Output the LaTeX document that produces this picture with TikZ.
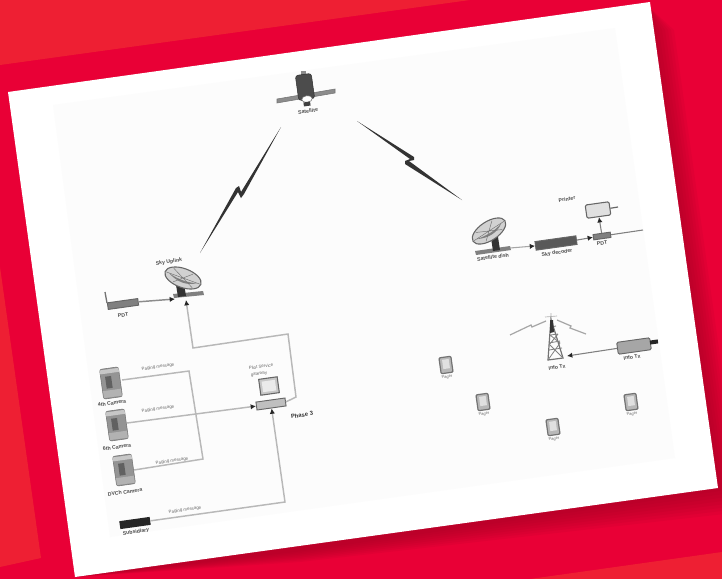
\documentclass[tikz,border=0pt]{standalone}
\usepackage{fontspec}
\setmainfont{Liberation Sans}
\usetikzlibrary{shapes.geometric,arrows.meta}
\definecolor{redbase}{HTML}{E90036}
\definecolor{redlight}{HTML}{EE1F33}
\definecolor{redshadow}{HTML}{A00024}
\definecolor{innerpaper}{HTML}{FCFCFC}
\tikzset{
  tiny label/.style={font=\fontsize{3.3}{4}\selectfont,text=black!60,rotate=8,inner sep=0,align=center},
  dev label/.style={font=\fontsize{3.9}{5}\selectfont\bfseries,text=black!70,rotate=8,inner sep=0,align=center},
  lite wire/.style={draw=black!28,line width=1.1pt,line join=miter},
  dark wire/.style={draw=black!50,line width=.8pt},
  tip/.style={-{Latex[length=4pt,width=4pt,black!85]}},
  pager/.style={draw=black!55,fill=black!28,line width=.9pt,rounded corners=.8pt,rotate=8,minimum width=9pt,minimum height=12pt,inner sep=0},
  unit/.style={draw=black!60,line width=.7pt,rotate=8,inner sep=0},
  bolt/.style={fill=black!80,draw=none},
  pics/cam/.style={code={
    \fill[black!42,draw=black!55,line width=.4pt,rounded corners=1.5pt] (-9.5,-15) rectangle (9.5,15);
    \fill[black!22] (-9.5,-14) rectangle (9.5,-10);
    \fill[black!62] (-5,-7) rectangle (1,5);
    \fill[black!30] (-9,7) rectangle (9,14);
  }},
  pics/dish/.style={code={
    \draw[black!60,fill=black!18,line width=.8pt] (0,0) ellipse (19 and 9.5);
    \fill[black!50] (-15,0) .. controls (-4,3) and (6,3) .. (15,0) .. controls (6,6) and (-4,6) .. (-15,0);
    \draw[black!55,line width=.35pt] (-12,-6) -- (12,6) (-8,7) -- (8,-7) (-18,0) -- (18,0);
  }}
}
\begin{document}
\begin{tikzpicture}[x=.75pt,y=-.75pt]
\useasboundingbox (0,0) rectangle (722,579);
% background
\fill[redbase] (0,0) rectangle (722,579);
\fill[redlight] (0,0) -- (470,0) -- (0,65) -- cycle;
\fill[redlight] (0,267) -- (41,558) -- (0,567) -- cycle;
\fill[redlight] (722,552) -- (530,579) -- (722,579) -- cycle;
\foreach \d in {3,6,...,24}{
  \fill[redshadow,opacity=.1] (650,8) -- (650+\d,30) -- (718+\d,488+\d) -- (300,550+.5*\d) -- (75,577) -- cycle;
}
% paper
\fill[white] (8,92) -- (650,2) -- (718,488) -- (75,577) -- cycle;
\fill[innerpaper] (53,105) -- (615,28) -- (675,458) -- (110,537) -- cycle;

% bends and free ends
\coordinate (upA) at (193,348);
\coordinate (upB) at (288,334);
\coordinate (upC) at (296,397);
\coordinate (c1A) at (189,371);
\coordinate (c1B) at (203,459);
\coordinate (subA) at (285,502);
\coordinate (feed) at (643,230);
\coordinate (upDish) at (186,300);
\coordinate (dishIn) at (175,299);
\coordinate (dishOut) at (510,248);

% satellite
\fill[black!45,draw=black!55,line width=.4pt] (277,99) -- (335,89) -- (335,93) -- (277,103) -- cycle;
\fill[black!45] (301,71) rectangle (306,76);
\node[draw=black!80,fill=black!70,rotate=8,minimum width=12pt,minimum height=19pt,inner sep=0,rounded corners=2pt] (sat) at (305,87) {};
\node[draw=black!60,fill=white,ellipse,rotate=8,minimum width=8pt,minimum height=5pt,inner sep=0] (satlens) at (307,99) {};
\node[fill=black!75,rotate=8,minimum width=5pt,minimum height=3pt,inner sep=0] (satbase) at (307,104) {};
\node[dev label] (satl) at (308,111) {Satellite};

% radio bolts
\fill[bolt] (200,253) -- (236,188) -- (239,186) -- (241,192) -- (281,127) -- (244,194) -- (241,198) -- (238,192) -- cycle;
\fill[bolt] (357,121) -- (414,157) -- (414,160) -- (409,161) -- (462,200) -- (405,164) -- (405,161) -- (410,159) -- cycle;

% sky uplink
\fill[black!50] (173,294) -- (203,291) -- (204,295) -- (174,298) -- cycle;
\fill[black!80] (176,285) -- (184,284) -- (186,296) -- (178,297) -- cycle;
\pic[rotate=-20] at (183,278) {dish};
\node[dev label] (upl) at (169,262) {Sky Uplink};
\node[unit,fill=black!50,minimum width=23pt,minimum height=5pt] (pdtA) at (123,304) {};
\draw[black!55,line width=1pt] (105,292) -- (107,303);
\node[dev label] (pdtAl) at (123,315) {PDT};
\draw[lite wire,draw=black!45,tip] (pdtA.east) -- (dishIn);

% cameras
\pic[rotate=8] at (111,383) {cam};
\pic[rotate=8] at (117,425) {cam};
\pic[rotate=8] at (124,470) {cam};
\coordinate (cam1) at (122,380);
\coordinate (cam2) at (127,423);
\coordinate (cam3) at (134,470);
\node[dev label] (c1l) at (112,403) {4th Camera};
\node[dev label] (c2l) at (117,447) {6th Camera};
\node[dev label] (c3l) at (125,492) {DVCh Camera};

% gateway
\node[draw=black!60,fill=black!22,line width=.8pt,rotate=8,minimum width=14pt,minimum height=12pt,inner sep=0] (mon) at (269,386) {};
\node[draw=none,fill=black!8,rotate=8,minimum width=10pt,minimum height=8pt,inner sep=0] (scr) at (269,386) {};
\node[unit,fill=black!25,minimum width=22pt,minimum height=6pt] (gw) at (271,404) {};
\node[tiny label] (gwlA) at (261,366.5) {Pilot Service};
\node[tiny label] (gwlB) at (259,374) {gateway};
\node[font=\fontsize{4.4}{5}\selectfont\bfseries,rotate=8,inner sep=0,text=black!80] (ph) at (302,415) {Phase 3};

% subscribers
\node[fill=black!85,rotate=8,minimum width=23pt,minimum height=6pt,inner sep=0] (sub) at (135,523) {};
\node[dev label] (subl) at (136,532) {Subsidiary};

% grey wires
\draw[lite wire] (cam1) -- (c1A) -- (c1B) -- (cam3);
\draw[lite wire,tip] (cam2) -- (gw.west);
\draw[lite wire,tip] (gw.east) -- (upC) -- (upB) -- (upA) -- (upDish);
\draw[lite wire,tip] (sub.east) -- (subA) -- (gw.south);
\node[tiny label] (m1) at (158,367) {Paging message};
\node[tiny label] (m2) at (158,409) {Paging message};
\node[tiny label] (m3) at (172,461) {Paging message};
\node[tiny label] (m4) at (185,510) {Paging message};

% satellite dish side
\fill[black!50] (475,251) -- (510,246) -- (511,250) -- (476,255) -- cycle;
\fill[black!80] (491,238) -- (498,237) -- (500,250) -- (493,251) -- cycle;
\pic[rotate=33] at (489,231) {dish};
\node[dev label] (dl) at (493,257) {Satellite dish};
\node[unit,fill=black!65,minimum width=31pt,minimum height=6.5pt] (dec) at (556,243) {};
\node[dev label] (decl) at (557,253) {Sky decoder};
\node[unit,fill=black!50,minimum width=13pt,minimum height=4pt] (pdtB) at (602,236) {};
\node[dev label] (pdtBl) at (602,243) {PDT};
\node[draw=black!60,fill=black!12,line width=.8pt,rotate=8,minimum width=18pt,minimum height=10pt,inner sep=0,rounded corners=1pt] (prn) at (598,210) {};
\draw[black!60,line width=.9pt] (prn.east) -- (618,207);
\node[dev label] (prl) at (567,199) {Printer};
\draw[dark wire,draw=black!35,tip] (dishOut) -- (dec.west);
\draw[dark wire,tip] (dec.east) -- (pdtB.west);
\draw[dark wire] (pdtB.east) -- (feed);
\draw[dark wire,tip] (pdtB.north) -- (prn.south);

% tower
\node[inner sep=0,minimum size=1pt] (top) at (551,318) {};
\coordinate (tL) at (548,360);
\coordinate (tR) at (563,358);
\draw[black!55,line width=.9pt] (top) -- (tL) -- (tR) -- cycle;
\draw[black!50,line width=.6pt] (549,350) -- (562,348) (549,343) -- (560,341) (550,335) -- (558,334) (551,327) -- (556,326) (548,360) -- (560,343) (563,358) -- (550,345) (549,345) -- (558,334) (560,343) -- (550,335);
\fill[black!80] (550,320) -- (553,320) -- (554,332) -- (550,333) -- cycle;
\draw[black!30,line width=.5pt] (551,313) -- (551,320) (545,317) -- (557,316);
\node[dev label] (txl) at (557,367) {Info Tx};
\draw[black!35,line width=.9pt] (546,321) -- (532,327) -- (531,325) -- (510,335);
\draw[black!35,line width=.9pt] (557,320) -- (571,326) -- (570,328) -- (586,334);
\node[unit,fill=black!35,rounded corners=1pt,minimum width=25pt,minimum height=9pt] (itx) at (634,346) {};
\node[fill=black!85,rotate=8,minimum width=6pt,minimum height=3pt,inner sep=0] (plug) at (654,342) {};
\node[dev label] (itxl) at (632,357) {Info Tx};
\coordinate (twr) at (567,356);
\draw[dark wire,tip] (itx.west) -- (twr);

% pagers
\foreach \n/\x/\y in {a/446/365,b/483/402,c/553/427,d/631/402}{
  \node[pager] (pg\n) at (\x,\y) {};
  \node[draw=none,fill=black!12,rotate=8,minimum width=5pt,minimum height=7pt,inner sep=0] (ps\n) at (\x,\y-1) {};
  \node[tiny label,font=\fontsize{3}{4}\selectfont] (pl\n) at (\x+1,\y+12) {Pager};
}
\end{tikzpicture}
\end{document}
